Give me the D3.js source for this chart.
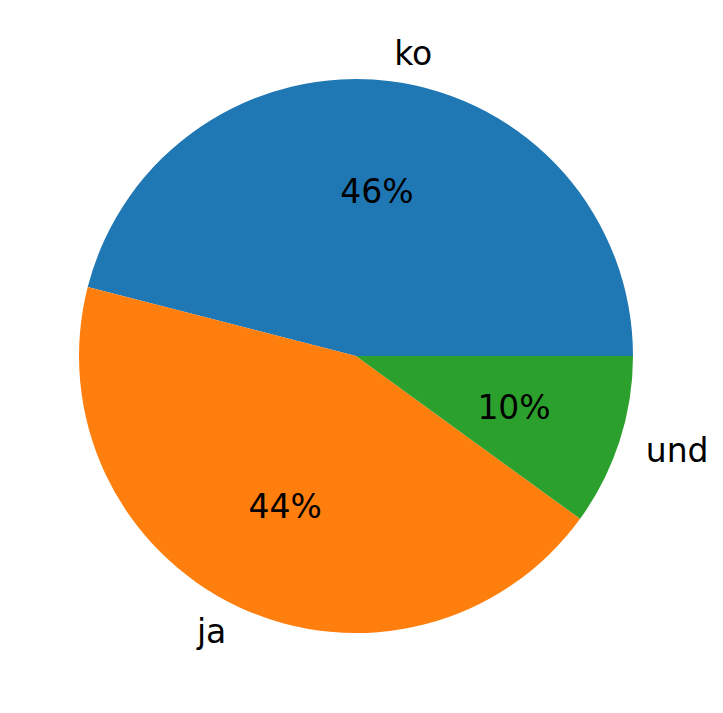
<!DOCTYPE html>
<html><head><meta charset="utf-8">
<script src="https://cdn.jsdelivr.net/npm/d3@7"></script>
<style>body{margin:0;background:#fff}</style></head>
<body><svg id="c" width="723" height="713"></svg>
<script>
const categories = ["ko","ja","und"];
const values = [46,44,10];
const colors = ["#1f77b4","#ff7f0e","#2ca02c"];
const cx=356, cy=356, r=277;
const svg=d3.select("#c");
const g=svg.append("g").attr("transform",`translate(${cx},${cy})`);
const pie=d3.pie().sort(null).startAngle(Math.PI/2).endAngle(Math.PI/2-2*Math.PI);
const arcs=pie(values);
const arc=d3.arc().innerRadius(0).outerRadius(r);
g.selectAll("path").data(arcs).join("path").attr("d",arc).attr("fill",(d,i)=>colors[i]);
const total=d3.sum(values);
function pos(d,k){const a=(d.startAngle+d.endAngle)/2;return [k*r*Math.sin(a),-k*r*Math.cos(a)];}
g.selectAll("text.pct").data(arcs).join("text").attr("class","pct")
 .attr("x",d=>pos(d,0.6)[0]).attr("y",d=>pos(d,0.6)[1]).attr("text-anchor","middle").attr("dominant-baseline","central")
 .attr("font-family","DejaVu Sans").attr("font-size",33).text(d=>Math.round(d.data/total*100)+"%");
g.selectAll("text.lab").data(arcs).join("text").attr("class","lab")
 .attr("x",d=>pos(d,1.1)[0]).attr("y",d=>pos(d,1.1)[1])
 .attr("text-anchor",d=>pos(d,1.1)[0]>0?"start":"end").attr("dominant-baseline","central")
 .attr("font-family","DejaVu Sans").attr("font-size",33).text((d,i)=>categories[i]);
</script></body></html>
